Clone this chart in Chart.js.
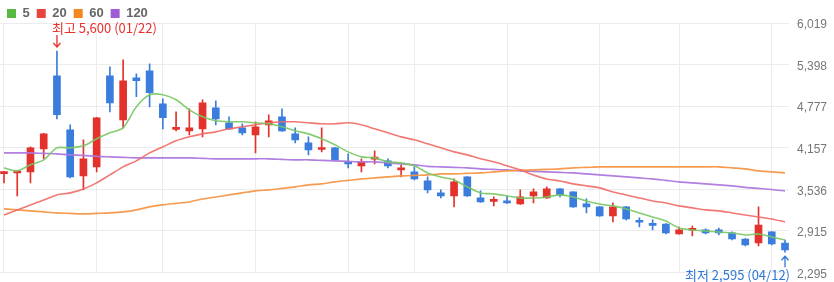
<!DOCTYPE html>
<html>
<head>
<meta charset="utf-8">
<script src="https://cdn.jsdelivr.net/npm/chart.js@4.4.1/dist/chart.umd.min.js"></script>
<style>
  html, body { margin: 0; padding: 0; background: #fff; }
  #wrap { width: 834px; height: 282px; position: relative; }
</style>
</head>
<body>
<div id="wrap"><canvas id="myChart"></canvas></div>
<script>
// daily candles, oldest first
const openV = [3770, 3780, 3795, 4139, 5231, 4423, 3735, 3870, 5231, 4573,
  5201, 5306, 4812, 4430, 4408, 4438, 4752, 4528, 4453, 4348,
  4498, 4618, 4363, 4229, 4130, 4154, 3945, 3885, 3985, 3960,
  3825, 3795, 3660, 3481, 3436, 3720, 3406, 3355, 3361, 3316,
  3436, 3406, 3541, 3496, 3316, 3272, 3137, 3272, 3052, 3007,
  3017, 2868, 2923, 2928, 2928, 2883, 2793, 2733, 2898, 2733];
const highV = [3800, 3800, 4169, 4370, 5600, 4498, 4274, 4610, 5365, 5470,
  5261, 5410, 4887, 4692, 4737, 4872, 4857, 4618, 4513, 4543,
  4648, 4737, 4453, 4318, 4453, 4160, 4064, 3990, 4109, 3990,
  3900, 3870, 3720, 3526, 3690, 3725, 3511, 3421, 3436, 3526,
  3541, 3571, 3545, 3500, 3391, 3277, 3331, 3277, 3107, 3077,
  3022, 2972, 2987, 2943, 2957, 2898, 2798, 3272, 2903, 2778];
const lowV = [3630, 3436, 3631, 3990, 4588, 3705, 3526, 3795, 4692, 4453,
  4917, 4767, 4438, 4408, 4348, 4318, 4498, 4430, 4348, 4079,
  4318, 4400, 4229, 4049, 4094, 3970, 3855, 3795, 3915, 3855,
  3720, 3675, 3481, 3406, 3272, 3430, 3340, 3287, 3325, 3310,
  3331, 3400, 3421, 3265, 3182, 3130, 3047, 3077, 2972, 2928,
  2868, 2865, 2838, 2868, 2853, 2778, 2688, 2688, 2703, 2595];
const closeV = [3790, 3795, 4154, 4363, 4648, 3720, 3990, 4603, 4827, 5156,
  5156, 4977, 4603, 4440, 4453, 4827, 4588, 4438, 4378, 4468,
  4558, 4408, 4274, 4124, 4139, 3975, 3915, 3945, 3995, 3885,
  3835, 3690, 3526, 3436, 3645, 3436, 3346, 3365, 3331, 3421,
  3496, 3541, 3451, 3272, 3272, 3137, 3272, 3092, 3042, 2997,
  2883, 2928, 2933, 2883, 2883, 2793, 2703, 3002, 2718, 2629];

// moving averages
const ma5 = [3855, 3810, 3900, 3975, 4154, 4154, 4184, 4289, 4378, 4453,
  4767, 4947, 4947, 4872, 4722, 4618, 4558, 4543, 4543, 4528,
  4513, 4468, 4408, 4363, 4289, 4199, 4094, 4019, 4004, 3945,
  3930, 3885, 3780, 3720, 3675, 3571, 3481, 3466, 3436, 3406,
  3406, 3421, 3451, 3421, 3361, 3316, 3287, 3242, 3182, 3122,
  3062, 2957, 2928, 2913, 2898, 2883, 2853, 2868, 2823, 2778];
const ma20 = [3152, 3227, 3302, 3376, 3451, 3481, 3541, 3631, 3750, 3870,
  3960, 4079, 4169, 4259, 4319, 4363, 4393, 4438, 4468, 4498,
  4528, 4543, 4543, 4528, 4513, 4513, 4528, 4498, 4438, 4378,
  4318, 4274, 4214, 4154, 4094, 4049, 3990, 3945, 3885, 3825,
  3750, 3690, 3660, 3616, 3586, 3556, 3496, 3451, 3406, 3361,
  3331, 3287, 3257, 3227, 3212, 3182, 3152, 3122, 3092, 3047];
const ma60 = [3242, 3227, 3212, 3197, 3182, 3175, 3167, 3175, 3182, 3197,
  3227, 3272, 3302, 3324, 3346, 3391, 3421, 3451, 3481, 3511,
  3526, 3548, 3571, 3601, 3616, 3646, 3668, 3690, 3705, 3720,
  3735, 3743, 3750, 3765, 3765, 3773, 3780, 3795, 3810, 3818,
  3825, 3833, 3840, 3855, 3862, 3870, 3870, 3870, 3870, 3870,
  3870, 3870, 3870, 3870, 3870, 3855, 3840, 3810, 3795, 3780];
const ma120 = [4079, 4079, 4079, 4071, 4064, 4049, 4041, 4027, 4019, 4012,
  4004, 4004, 4004, 4004, 4004, 3997, 3990, 3990, 3990, 3990,
  3990, 3982, 3975, 3975, 3967, 3960, 3952, 3945, 3945, 3930,
  3915, 3900, 3877, 3870, 3862, 3855, 3840, 3833, 3825, 3810,
  3802, 3795, 3788, 3780, 3765, 3750, 3735, 3720, 3705, 3690,
  3668, 3646, 3631, 3616, 3601, 3586, 3563, 3548, 3533, 3511];

const yTicks = [2295, 2915, 3536, 4157, 4777, 5398, 6019];
const gridDays = [0, 7, 12, 19, 26, 31, 38, 45, 51, 58];
const maNames = ['5', '20', '60', '120'];
const highDate = '01/22';
const lowDate = '04/12';

const upColor = '#e2322b';
const downColor = '#3a7ddd';
const legendColors = ['#59b842', '#e8453e', '#f4871f', '#9d5bd5'];
const lineColors = ['rgba(120,200,100,0.9)', 'rgba(240,105,100,0.9)', 'rgba(246,150,70,0.95)', 'rgba(172,120,222,0.95)'];

const candleColors = openV.map((o, i) => (closeV[i] >= o ? upColor : downColor));

function arrow(ctx, x, yFrom, yTo) {
  const dir = yTo > yFrom ? 1 : -1;
  ctx.beginPath();
  ctx.moveTo(x, yFrom);
  ctx.lineTo(x, yTo);
  ctx.moveTo(x - 3.5, yTo - dir * 4);
  ctx.lineTo(x, yTo);
  ctx.lineTo(x + 3.5, yTo - dir * 4);
  ctx.stroke();
}

// legend box gets a fixed height so the plot starts where the original does
const legendHeight = {
  id: 'legendHeight',
  beforeLayout(chart) {
    const lg = chart.legend;
    if (lg && !lg._fixed) {
      const fit = lg.fit;
      lg.fit = function () {
        fit.call(this);
        this.height = 23;
      };
      lg._fixed = true;
    }
  }
};

const markPlugin = {
  id: 'marks',
  afterDraw(chart) {
    const { ctx, scales } = chart;
    const hi = highV.indexOf(Math.max(...highV));
    const lo = lowV.indexOf(Math.min(...lowV));
    ctx.save();
    ctx.font = '13px "Noto Sans CJK KR", sans-serif';
    ctx.textBaseline = 'middle';
    ctx.lineWidth = 1.3;

    let px = scales.x.getPixelForValue(hi);
    let py = scales.y.getPixelForValue(highV[hi]);
    ctx.fillStyle = ctx.strokeStyle = '#e8312b';
    ctx.textAlign = 'left';
    ctx.fillText('최고 ' + highV[hi].toLocaleString('en-US') + ' (' + highDate + ')', px - 5, py - 23);
    arrow(ctx, px, py - 16, py - 4);

    px = scales.x.getPixelForValue(lo);
    py = scales.y.getPixelForValue(lowV[lo]);
    ctx.fillStyle = ctx.strokeStyle = '#2f78d6';
    ctx.textAlign = 'right';
    ctx.fillText('최저 ' + lowV[lo].toLocaleString('en-US') + ' (' + lowDate + ')', px + 5, py + 23);
    arrow(ctx, px, py + 15, py + 4);
    ctx.restore();
  }
};

const maSets = [ma5, ma20, ma60, ma120].map((arr, k) => ({
  type: 'line',
  label: maNames[k],
  data: arr.map((v, i) => ({ x: i, y: v })),
  borderColor: lineColors[k],
  borderWidth: 1.6,
  pointRadius: 0,
  tension: 0.25,
  order: 0,
}));

const ctx = document.getElementById('myChart').getContext('2d');
const myChart = new Chart(ctx, {
  type: 'bar',
  data: {
    datasets: [
      ...maSets,
      {
        label: 'body',
        data: openV.map((o, i) => ({ x: i, y: [o, closeV[i]] })),
        backgroundColor: candleColors,
        barThickness: 7,
        minBarLength: 2,
        grouped: false,
        order: 1,
      },
      {
        label: 'wick',
        data: lowV.map((l, i) => ({ x: i, y: [l, highV[i]] })),
        backgroundColor: candleColors,
        barThickness: 1,
        grouped: false,
        order: 2,
      },
    ],
  },
  options: {
    responsive: true,
    maintainAspectRatio: false,
    animation: false,
    events: [],
    layout: { padding: { top: 0, bottom: 9.7, left: 0, right: 0 } },
    plugins: {
      tooltip: { enabled: false },
      legend: {
        display: true,
        position: 'top',
        align: 'start',
        labels: {
          boxWidth: 9,
          boxHeight: 9,
          padding: 7,
          color: '#666',
          font: { size: 13, weight: 'bold', family: 'Arial, "Liberation Sans", sans-serif' },
          generateLabels: () => maNames.map((n, k) => ({
            text: n,
            fillStyle: legendColors[k],
            strokeStyle: legendColors[k],
            lineWidth: 0,
            hidden: false,
            datasetIndex: k,
            fontColor: '#666',
          })),
        },
      },
    },
    scales: {
      x: {
        type: 'linear',
        min: -0.302,
        max: 59.302,
        offset: false,
        afterBuildTicks: (scale) => {
          scale.ticks = gridDays.map((v) => ({ value: v }));
        },
        afterFit: (scale) => {
          scale.height = 0;
        },
        ticks: { display: false },
        grid: { color: '#ececec', drawTicks: false, offset: false },
        border: { display: false },
      },
      y: {
        position: 'right',
        min: 2295,
        max: 6019,
        afterBuildTicks: (scale) => {
          scale.ticks = yTicks.map((v) => ({ value: v }));
        },
        afterFit: (scale) => {
          scale.width = 45;
          scale.paddingTop = 0;
          scale.paddingBottom = 0;
        },
        ticks: {
          padding: 8,
          labelOffset: 2,
          color: '#777',
          font: { size: 12, family: 'Arial, "Liberation Sans", sans-serif' },
          callback: (v) => v.toLocaleString('en-US'),
        },
        grid: { color: '#ececec', drawTicks: false },
        border: { display: false },
      },
    },
  },
  plugins: [legendHeight, markPlugin],
});
</script>
</body>
</html>
